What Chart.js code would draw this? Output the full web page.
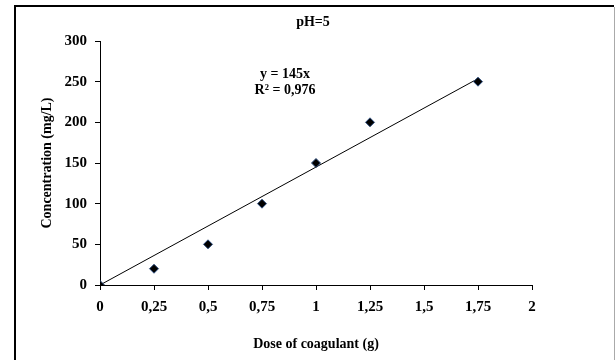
<!DOCTYPE html>
<html>
<head>
<meta charset="utf-8">
<script src="https://cdn.jsdelivr.net/npm/chart.js@4/dist/chart.umd.min.js"></script>
<style>
  html, body { margin:0; padding:0; background:#fff; }
  #wrap { position:relative; width:615px; height:360px; }
</style>
</head>
<body>
<div id="wrap"><canvas id="c" width="615" height="360"></canvas></div>
<script>
// Data
const doseX = [0, 0.25, 0.5, 0.75, 1, 1.25, 1.75];
const concY = [0, 20, 50, 100, 150, 200, 250];
const trendX = [0, 1.75];
const trendY = [0, 253.75];
const xTickLabels = ['0','0,25','0,5','0,75','1','1,25','1,5','1,75','2'];
const yTickLabels = ['0','50','100','150','200','250','300'];
const chartTitle = 'pH=5';
const eqLines = ['y = 145x', 'R\u00B2 = 0,976'];

const FONT = '"Liberation Serif", "Times New Roman", serif';

const borderPlugin = {
  id: 'frame',
  beforeDraw(chart) {
    const ctx = chart.ctx;
    ctx.save();
    ctx.fillStyle = '#fff';
    ctx.fillRect(0, 0, chart.width, chart.height);
    ctx.strokeStyle = '#000';
    ctx.lineWidth = 2;
    ctx.beginPath();
    ctx.moveTo(15, 362);
    ctx.lineTo(15, 6);
    ctx.lineTo(614, 6);
    ctx.stroke();
    ctx.strokeStyle = '#aaa';
    ctx.lineWidth = 1;
    ctx.beginPath();
    ctx.moveTo(614.5, 7);
    ctx.lineTo(614.5, 360);
    ctx.stroke();
    ctx.restore();
  },
  afterDatasetsDraw(chart) {
    const ctx = chart.ctx;
    ctx.save();
    ctx.fillStyle = '#000';
    ctx.textAlign = 'center';
    ctx.textBaseline = 'middle';
    ctx.font = 'bold 14px ' + FONT;
    ctx.fillText(chartTitle, 313, 22);
    ctx.fillText(eqLines[0], 285, 74);
    ctx.fillText(eqLines[1], 285, 90);
    ctx.restore();
  }
};

new Chart(document.getElementById('c'), {
  type: 'scatter',
  data: {
    datasets: [
      {
        type: 'line',
        label: 'trend',
        data: trendX.map((x, i) => ({x, y: trendY[i]})),
        borderColor: '#000',
        borderWidth: 1,
        pointRadius: 0,
        fill: false,
        order: 2
      },
      {
        label: chartTitle,
        data: doseX.map((x, i) => ({x, y: concY[i]})),
        pointStyle: 'rectRot',
        pointRadius: 4.5,
        backgroundColor: '#000',
        borderColor: '#2f4f7f',
        borderWidth: 1,
        order: 1
      }
    ]
  },
  plugins: [borderPlugin],
  options: {
    responsive: false,
    animation: false,
    layout: { padding: { left: 35, right: 83, top: 41, bottom: 3 } },
    plugins: {
      legend: { display: false },
      tooltip: { enabled: false },
      title: { display: false }
    },
    scales: {
      x: {
        type: 'linear',
        min: 0, max: 2,
        afterBuildTicks(s) { s.ticks = xTickLabels.map((_, i) => ({value: i * 0.25})); },
        afterFit(s) { s.height = 72; },
        ticks: {
          color: '#000',
          font: { family: FONT, size: 15, weight: 'bold' },
          padding: 8,
          maxRotation: 0,
          autoSkip: false,
          callback: (v, i) => xTickLabels[i]
        },
        grid: { drawOnChartArea: false, drawTicks: true, tickLength: 5, color: '#000' },
        border: { display: true, color: '#000', width: 1 },
        title: {
          display: true,
          text: 'Dose of coagulant (g)',
          color: '#000',
          font: { family: FONT, size: 14, weight: 'bold' },
          padding: { top: 4, bottom: 4 }
        }
      },
      y: {
        type: 'linear',
        min: 0, max: 300,
        afterBuildTicks(s) { s.ticks = yTickLabels.map((_, i) => ({value: i * 50})); },
        afterFit(s) { s.width = 65; },
        ticks: {
          color: '#000',
          font: { family: FONT, size: 15, weight: 'bold' },
          padding: 8,
          autoSkip: false,
          callback: (v, i) => yTickLabels[i]
        },
        grid: { drawOnChartArea: false, drawTicks: true, tickLength: 5, color: '#000' },
        border: { display: true, color: '#000', width: 1 },
        title: {
          display: true,
          text: 'Concentration (mg/L)',
          color: '#000',
          font: { family: FONT, size: 14, weight: 'bold' },
          padding: { top: 4, bottom: 4 }
        }
      }
    }
  }
});
</script>
</body>
</html>
